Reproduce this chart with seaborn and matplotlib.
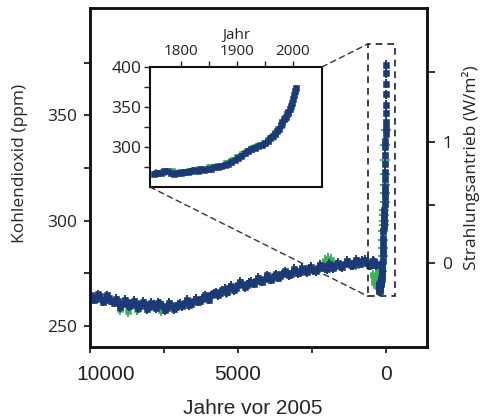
import numpy as np
import pandas as pd
import seaborn as sns
import matplotlib.pyplot as plt
import matplotlib.transforms as mtransforms
from matplotlib.patches import Rectangle, ConnectionPatch

# ---- Holocene ice-core CO2 (years before 2005, ppm) ----
holo_blue_bp = [9950, 9800, 9650, 9500, 9350, 9200, 9050, 8900, 8750, 8600,
                8450, 8300, 8150, 8000, 7850, 7700, 7550, 7400, 7250, 7100,
                6950, 6800, 6650, 6500, 6350, 6200, 6050, 5900, 5750, 5600,
                5450, 5300, 5150, 5000, 4850, 4700, 4550, 4400, 4250, 4100,
                3950, 3800, 3650, 3500, 3350, 3200, 3050, 2900, 2750, 2600,
                2450, 2300, 2150, 2000, 1850, 1700, 1550, 1400, 1250, 1100,
                950, 800, 650, 500, 400, 300]
holo_blue_ppm = [264.5, 263.0, 264.0, 262.5, 263.5, 261.0, 262.0, 260.5, 261.5, 260.0,
                 261.0, 259.5, 260.5, 259.0, 260.0, 261.0, 259.5, 258.5, 260.0, 259.0,
                 260.5, 261.0, 260.0, 262.0, 261.5, 263.0, 263.5, 264.5, 266.0, 265.5,
                 267.5, 268.0, 267.0, 269.5, 270.0, 269.5, 271.0, 271.5, 272.0, 272.5,
                 273.0, 273.5, 273.0, 274.5, 275.0, 274.5, 276.0, 275.5, 276.5, 277.0,
                 276.5, 277.5, 278.0, 277.0, 278.5, 279.0, 278.5, 279.5, 280.0, 279.0,
                 280.5, 281.0, 280.0, 279.0, 280.5, 279.5]

# second core, sampled in between
holo_blue2_bp = [9875, 9725, 9575, 9425, 9275, 9125, 8975, 8825, 8675, 8525,
                 8375, 8225, 8075, 7925, 7775, 7625, 7475, 7325, 7175, 7025,
                 6875, 6725, 6575, 6425, 6275, 6125, 5975, 5825, 5675, 5525,
                 5375, 5225, 5075, 4925, 4775, 4625, 4475, 4325, 4175, 4025,
                 3875, 3725, 3575, 3425, 3275, 3125, 2975, 2825, 2675, 2525,
                 2375, 2225, 2075, 1925, 1775, 1625, 1475, 1325, 1175, 1025,
                 875, 725, 575, 450, 350]
holo_blue2_ppm = [262.5, 265.0, 261.5, 264.5, 262.0, 263.0, 259.0, 262.5, 259.5, 262.0,
                  258.5, 261.5, 258.0, 261.0, 258.5, 260.5, 257.5, 261.0, 258.0, 260.0,
                  259.5, 262.5, 260.5, 263.0, 262.0, 264.5, 262.5, 265.5, 264.5, 267.0,
                  266.0, 269.0, 268.0, 271.0, 268.5, 270.5, 270.0, 273.0, 271.0, 274.0,
                  272.0, 274.5, 273.5, 276.0, 274.0, 277.0, 275.0, 277.5, 275.5, 278.0,
                  276.0, 279.0, 277.5, 279.5, 277.5, 280.0, 278.0, 281.0, 279.0, 281.5,
                  279.5, 281.5, 279.0, 281.0, 279.0]

holo_green_bp = [9000, 8700, 8400, 7600, 5400, 2050, 1950, 1850, 1000, 800,
                 600, 520, 450, 400, 350, 300, 260]
holo_green_ppm = [258.0, 257.0, 258.0, 257.5, 266.0, 281.0, 282.0, 281.5, 279.0, 280.0,
                  281.0, 279.0, 274.0, 271.0, 269.5, 272.0, 276.0]

# ---- Industrial era (calendar year, ppm) ----
ind_blue_year = [1752, 1758, 1764, 1770, 1776, 1782, 1788, 1794, 1800, 1806,
                 1812, 1818, 1824, 1830, 1836, 1842, 1848, 1854, 1860, 1866,
                 1872, 1878, 1884, 1890, 1896, 1902, 1908, 1914, 1920, 1926,
                 1932, 1938, 1944, 1950, 1955, 1960, 1964, 1968, 1972, 1975,
                 1978, 1981, 1984, 1987, 1990, 1992, 1994, 1996, 1998, 2000,
                 2002, 2004, 2005]
ind_blue_ppm = [266.5, 268.0, 267.0, 269.5, 270.0, 268.0, 266.5, 268.0, 267.5, 269.0,
                268.5, 270.5, 271.0, 270.0, 272.0, 271.5, 273.0, 272.5, 274.5, 275.0,
                276.5, 277.5, 279.0, 281.0, 284.0, 286.0, 289.0, 292.0, 295.0, 297.0,
                299.0, 301.0, 303.0, 305.0, 308.0, 311.0, 313.5, 316.0, 320.0, 323.0,
                327.0, 331.0, 335.0, 338.0, 341.0, 344.0, 347.0, 351.0, 355.0, 360.0,
                365.0, 370.0, 374.0]

ind_green_year = [1756, 1768, 1785, 1798, 1815, 1833, 1850, 1865, 1880, 1890,
                  1900, 1910, 1918, 1925, 1933, 1941, 1948, 1956, 1962, 1968,
                  1974, 1980, 1986, 1992]
ind_green_ppm = [268.0, 268.5, 270.0, 269.0, 270.0, 272.5, 274.5, 276.0, 280.0, 283.0,
                 287.0, 291.0, 295.0, 298.0, 300.0, 302.5, 305.0, 309.0, 313.0, 317.0,
                 322.0, 329.0, 336.0, 343.0]

# ---- axis ticks ----
x_ticks = [10000, 7500, 5000, 2500, 0]
x_ticklabels = ["10000", "", "5000", "", "0"]
y_ticks = [250, 275, 300, 325, 350, 375]
y_ticklabels = ["250", "", "300", "", "350", ""]
forcing_ticks = [0, 0.5, 1, 1.5]
forcing_ticklabels = ["0", "", "1", ""]
inset_x_ticks = [1800, 1850, 1900, 1950, 2000]
inset_x_ticklabels = ["1800", "", "1900", "", "2000"]
inset_y_ticks = [275, 300, 325, 350, 375, 400]
inset_y_ticklabels = ["", "300", "", "350", "", "400"]

# zoom box around the industrial era in the main panel
box_bp = (600, -300)
box_ppm = (264, 384)

BLUE = "#1c3a76"
GREEN = "#3cb35a"
CO2_REF = 280.0

sns.set_theme(style="ticks")
plt.rcParams['font.family'] = ['Open Sans', 'DejaVu Sans']

fig = plt.figure(figsize=(4.92, 4.19), dpi=100)
ax = fig.add_axes([0.1829, 0.1718, 0.685, 0.8092])


def cloud(axis, x, y, color, xerr, yerr, size, z):
    axis.errorbar(x, y, xerr=xerr, yerr=yerr, fmt='none', ecolor=color,
                  elinewidth=1.4, capsize=0, zorder=z)
    sns.scatterplot(x=x, y=y, ax=axis, color=color, marker='s', s=size,
                    edgecolor=color, linewidth=0.4, legend=False, zorder=z + 0.1)


ind_blue_bp = [2005 - v for v in ind_blue_year]
ind_green_bp = [2005 - v for v in ind_green_year]

cloud(ax, holo_green_bp, holo_green_ppm, GREEN, 100, 2.6, 18, 2)
cloud(ax, ind_green_bp, ind_green_ppm, GREEN, 170, 2.8, 22, 2)
cloud(ax, holo_blue2_bp, holo_blue2_ppm, BLUE, 100, 2.2, 18, 3)
cloud(ax, holo_blue_bp, holo_blue_ppm, BLUE, 100, 2.2, 18, 3)
cloud(ax, ind_blue_bp, ind_blue_ppm, BLUE, 50, 2.2, 14, 3)

ax.set_xlim(10000, -1385)
ax.set_ylim(240, 401)
ax.set_xticks(x_ticks)
ax.set_xticklabels(x_ticklabels, family=['Liberation Sans', 'DejaVu Sans'], fontsize=15)
ax.set_yticks(y_ticks)
ax.set_yticklabels(y_ticklabels, fontsize=12.5)
ax.tick_params(axis='both', direction='out', length=4, width=1.3, colors='#222222')
ax.tick_params(axis='x', pad=9)
ax.tick_params(axis='y', pad=5)
for s in ax.spines.values():
    s.set_linewidth(1.8)
    s.set_color('#111111')

# nudge the leftmost year label inward from the frame corner
lbl = ax.get_xticklabels()[0]
lbl.set_transform(lbl.get_transform() + mtransforms.ScaledTranslation(16 / 100, 0, fig.dpi_scale_trans))

ax.set_xlabel("Jahre vor 2005", family=['Liberation Sans', 'DejaVu Sans'], fontsize=15)
ax.xaxis.set_label_coords(0.482, -0.153)
ax.set_ylabel("Kohlendioxid (ppm)", fontsize=12.5)
ax.yaxis.set_label_coords(-0.184, 0.54)

# radiative forcing axis, 5.35 * ln(C / C0)
ax2 = ax.twinx()
ax2.set_ylim(ax.get_ylim())
ax2.set_yticks([CO2_REF * np.exp(f / 5.35) for f in forcing_ticks])
ax2.set_yticklabels(forcing_ticklabels, fontsize=12.5)
ax2.tick_params(axis='y', direction='out', length=6, width=1.3, pad=5, colors='#222222')
for s in ax2.spines.values():
    s.set_linewidth(1.8)
    s.set_color('#111111')
ax2.set_ylabel("Strahlungsantrieb (W/m²)", fontsize=12.5)
ax2.yaxis.set_label_coords(1.104, 0.53)

# dashed zoom box
ax.add_patch(Rectangle((box_bp[0], box_ppm[0]), box_bp[1] - box_bp[0], box_ppm[1] - box_ppm[0],
                       fill=False, linestyle=(0, (4, 3)), linewidth=1.2, edgecolor='#222222', zorder=5))

# inset: industrial era
ins = fig.add_axes([0.3049, 0.5537, 0.3496, 0.2864])
cloud(ins, ind_green_year, ind_green_ppm, GREEN, 5.0, 4.0, 16, 2)
cloud(ins, ind_blue_year, ind_blue_ppm, BLUE, 3.5, 3.4, 13, 3)
ins.set_xlim(1745, 2052)
ins.set_ylim(250, 400)
ins.xaxis.tick_top()
ins.xaxis.set_label_position('top')
ins.set_xticks(inset_x_ticks)
ins.set_xticklabels(inset_x_ticklabels, fontsize=11)
ins.set_yticks(inset_y_ticks)
ins.set_yticklabels(inset_y_ticklabels, fontsize=12.5)
ins.tick_params(axis='both', direction='out', length=4, width=1.0, pad=2, colors='#222222')
ins.set_xlabel("Jahr", fontsize=11, labelpad=3)
ins.set_ylabel("")
for s in ins.spines.values():
    s.set_linewidth(1.5)
    s.set_color('#111111')

# dashed connectors from inset corners to the zoom box
for (ia, pb) in [((1, 1), (box_bp[0], box_ppm[1])), ((0, 0), (box_bp[0], box_ppm[0]))]:
    con = ConnectionPatch(xyA=ia, coordsA=ins.transAxes, xyB=pb, coordsB=ax.transData,
                          linestyle=(0, (4, 3)), linewidth=1.0, color='#333333', zorder=4)
    fig.add_artist(con)

fig.savefig("out.png", dpi=100, facecolor='white')
